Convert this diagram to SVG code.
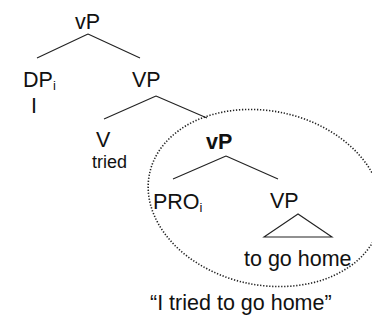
<svg xmlns="http://www.w3.org/2000/svg" width="372" height="321" viewBox="0 0 372 321">
  <style>
    .lbl { font-family: "Liberation Sans", Arial, sans-serif; font-size: 21.5px; fill: #111; }
    .small { font-size: 18px; }
    .bold { font-weight: bold; }
    .sub { font-size: 13px; }
    .edge { stroke: #222; stroke-width: 1.1; fill: none; }
    .halo { stroke: #222; stroke-width: 1.6; fill: none; stroke-dasharray: 1.3 1.7; }
  </style>
  <rect width="372" height="321" fill="#fff"/>

  <!-- tree branches -->
  <g id="connectors">
    <path class="edge" d="M88,34 L37,58 M88,34 L140,58"/>
    <path class="edge" d="M156,96 L104,119 M156,96 L207,118"/>
    <path class="edge" d="M226,156 L173,179 M226,156 L278,179"/>
    <path class="edge" d="M298,214 L264,237 L332,237 Z"/>
  </g>

  <!-- dotted ring around the embedded clause -->
  <ellipse class="halo" cx="265" cy="198" rx="118" ry="87" transform="rotate(12 265 198)"/>

  <g id="vP-root"><text class="lbl" x="75" y="29">vP</text></g>
  <g id="DP"><text class="lbl" x="23" y="87">DP<tspan class="sub" dy="3">i</tspan></text></g>
  <g id="I"><text class="lbl" x="31" y="113">I</text></g>
  <g id="VP-upper"><text class="lbl" x="132" y="87">VP</text></g>
  <g id="V"><text class="lbl" x="96" y="147">V</text></g>
  <g id="tried"><text class="lbl small" x="92" y="168">tried</text></g>
  <g id="vP-lower"><text class="lbl bold" x="206" y="149">vP</text></g>
  <g id="PRO"><text class="lbl" x="153" y="209">PRO<tspan class="sub" dy="3">i</tspan></text></g>
  <g id="VP-lower"><text class="lbl" x="270" y="208">VP</text></g>
  <g id="to-go-home"><text class="lbl" x="244" y="266">to go home</text></g>
  <g id="gloss"><text class="lbl" x="150" y="310">“I tried to go home”</text></g>
</svg>
